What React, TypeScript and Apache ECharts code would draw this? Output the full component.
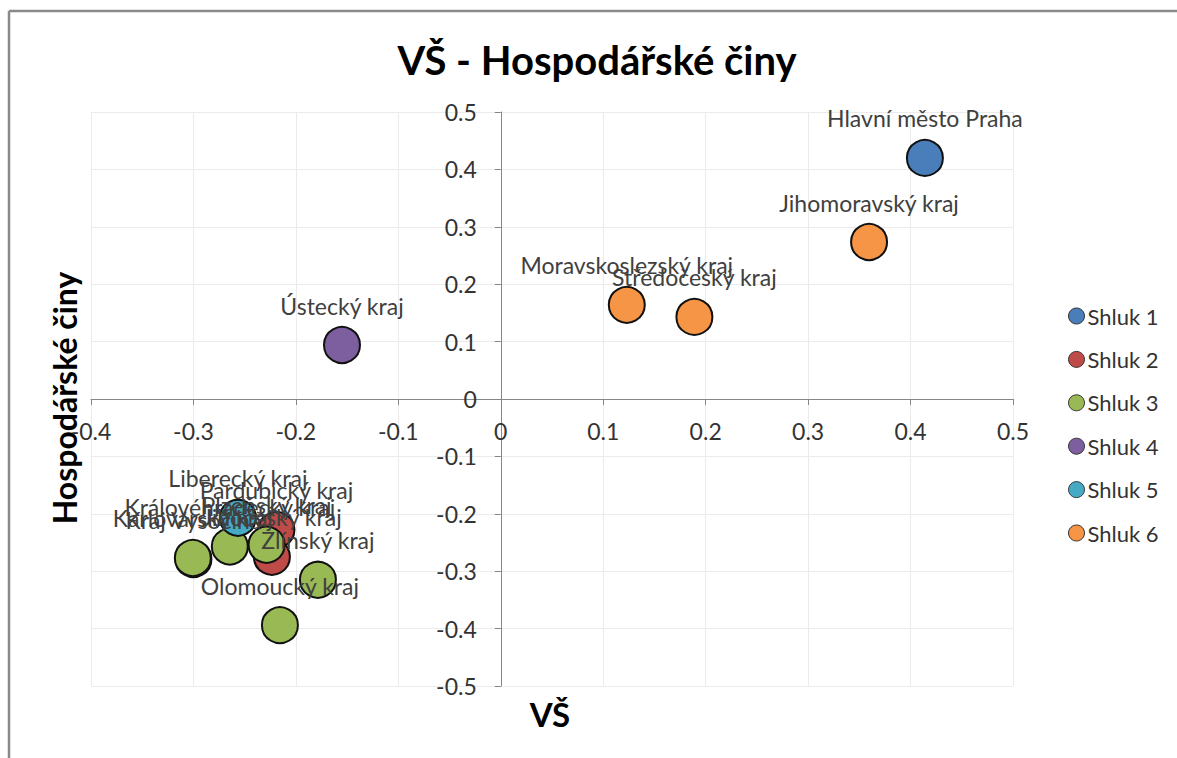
import React, { useEffect, useRef } from "react";
import * as echarts from "echarts";

const seriesNames = ["Shluk 1", "Shluk 2", "Shluk 3", "Shluk 4", "Shluk 5", "Shluk 6"];
const seriesColors = ["#4A7EBB", "#BE4B48", "#98B954", "#7D5FA0", "#46AAC5", "#F69545"];

const shluk1 = [{ name: "Hlavní město Praha", x: 0.414, y: 0.42 }];
const shluk2 = [
  { name: "Pardubický kraj", x: -0.219, y: -0.228 },
  { name: "Jihočeský kraj", x: -0.2234, y: -0.275 },
];
const shluk3 = [
  { name: "Kraj Vysočina", x: -0.3, y: -0.279 },
  { name: "Karlovarský kraj", x: -0.3006, y: -0.277 },
  { name: "Královéhradecký kraj", x: -0.2645, y: -0.257 },
  { name: "Plzeňský kraj", x: -0.2286, y: -0.254 },
  { name: "Zlínský kraj", x: -0.1785, y: -0.315 },
  { name: "Olomoucký kraj", x: -0.2156, y: -0.394 },
];
const shluk4 = [{ name: "Ústecký kraj", x: -0.155, y: 0.094 }];
const shluk5 = [{ name: "Liberecký kraj", x: -0.2566, y: -0.207 }];
const shluk6 = [
  { name: "Jihomoravský kraj", x: 0.3595, y: 0.2735 },
  { name: "Moravskoslezský kraj", x: 0.123, y: 0.164 },
  { name: "Středočeský kraj", x: 0.189, y: 0.143 },
];
const allSeries = [shluk1, shluk2, shluk3, shluk4, shluk5, shluk6];

const xMin = -0.4, xMax = 0.5, yMin = -0.5, yMax = 0.5, step = 0.1;

const chartTitle = "VŠ - Hospodářské činy";
const xTitle = "VŠ";
const yTitle = "Hospodářské činy";

const FONT = "Lato";

export default function App() {
  const ref = useRef<HTMLDivElement>(null);
  useEffect(() => {
    if (!ref.current) return;
    const chart = echarts.init(ref.current, null, { renderer: "svg" });
    const W = 1177, H = 758;
    const grid = { left: 91, right: 164, top: 112, bottom: 72 };
    const plotW = W - grid.left - grid.right;
    const plotH = H - grid.top - grid.bottom;
    const xAxisOffset = -((0 - yMin) / (yMax - yMin)) * plotH;
    const yAxisOffset = -((0 - xMin) / (xMax - xMin)) * plotW;
    const axisCommon = {
      type: "value" as const,
      interval: step,
      axisLine: { onZero: false, lineStyle: { color: "#868686", width: 1 } },
      axisTick: { show: true, inside: false, length: 6, lineStyle: { color: "#868686" } },
      splitLine: { show: true, lineStyle: { color: "#ebebeb", width: 1 } },
      axisLabel: { color: "#333", fontFamily: FONT, fontSize: 23 },
    };
    chart.setOption({
      animation: false,
      backgroundColor: "#fff",
      grid,
      xAxis: {
        ...axisCommon,
        min: xMin,
        max: xMax,
        position: "bottom",
        offset: xAxisOffset,
        axisLabel: { ...axisCommon.axisLabel, margin: 20 },
      },
      yAxis: {
        ...axisCommon,
        min: yMin,
        max: yMax,
        position: "left",
        offset: yAxisOffset,
        axisLabel: { ...axisCommon.axisLabel, margin: 24 },
      },
      legend: {
        orient: "vertical",
        left: 1063,
        top: 300,
        itemWidth: 16,
        itemHeight: 16,
        itemGap: 21.4,
        icon: "circle",
        itemStyle: { borderColor: "#333", borderWidth: 1 },
        textStyle: { fontFamily: FONT, fontSize: 22, color: "#333", lineHeight: 16, padding: [0, 0, 0, -2] },
        data: seriesNames,
      },
      series: allSeries.map((pts, i) => ({
        type: "scatter",
        name: seriesNames[i],
        symbol: "circle",
        symbolSize: 36,
        itemStyle: { color: seriesColors[i], borderColor: "#111", borderWidth: 2, opacity: 1 },
        label: {
          show: true,
          position: "top",
          distance: 9,
          formatter: "{b}",
          fontFamily: FONT,
          fontSize: 23,
          color: "#404040",
        },
        data: pts.map((p) => ({ name: p.name, value: [p.x, p.y] })),
      })),
      graphic: [
        { type: "line", shape: { x1: 9, y1: 11, x2: 1177, y2: 11 }, style: { stroke: "#8a8a8a", lineWidth: 2.5 } },
        { type: "line", shape: { x1: 9, y1: 11, x2: 9, y2: 758 }, style: { stroke: "#8a8a8a", lineWidth: 2.5 } },
        {
          type: "text",
          x: 597,
          y: 60,
          style: { text: chartTitle, font: `bold 40px ${FONT}`, fill: "#000", align: "center", verticalAlign: "middle" },
        },
        {
          type: "text",
          x: 550,
          y: 714,
          style: { text: xTitle, font: `bold 33px ${FONT}`, fill: "#000", align: "center", verticalAlign: "middle" },
        },
        {
          type: "text",
          x: 64,
          y: 398,
          rotation: Math.PI / 2,
          style: { text: yTitle, font: `bold 32px ${FONT}`, fill: "#000", align: "center", verticalAlign: "middle" },
        },
      ],
    });
    return () => chart.dispose();
  }, []);
  return <div ref={ref} style={{ position: "fixed", left: 0, top: 0, width: 1177, height: 758 }} />;
}
